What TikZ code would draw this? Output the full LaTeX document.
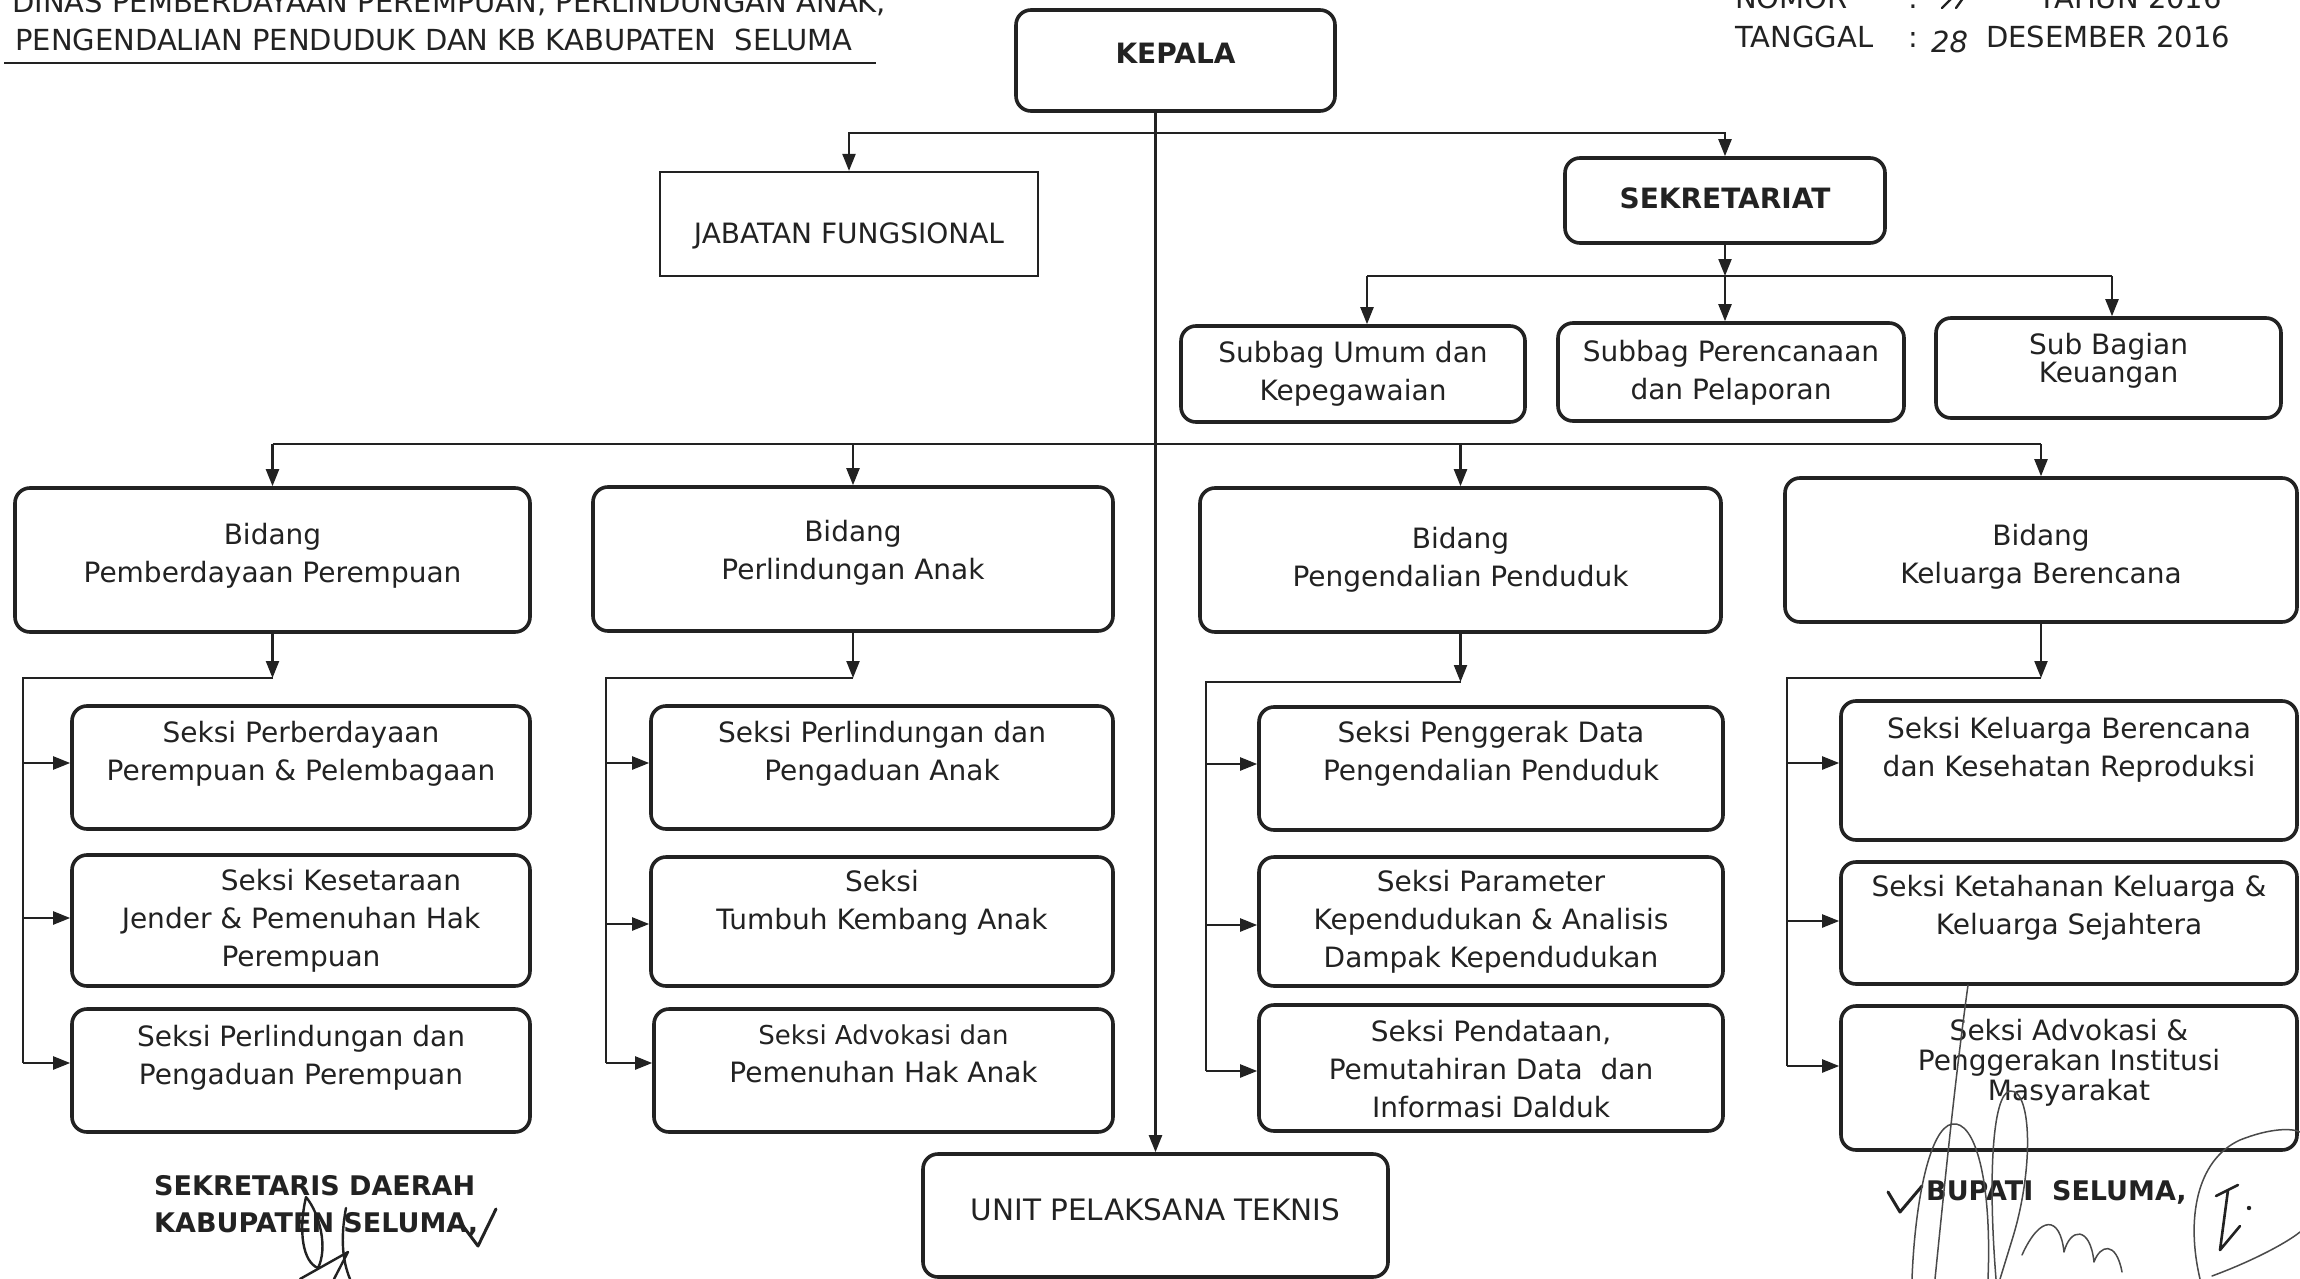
\documentclass[tikz,border=0pt]{standalone}
\usepackage{fontspec}
\setmainfont{DejaVu Sans}
\usetikzlibrary{arrows.meta}
\definecolor{ink}{HTML}{222222}
\definecolor{pen}{HTML}{4A4A4A}
% box text: #1 vertical shift, #2 line distance, #3 lines
\newcommand\bx[3]{\raisebox{#1}[\height][\depth]{\fontsize{28}{#2}\selectfont\begin{tabular}{@{}c@{}}#3\end{tabular}}}

\tikzset{
  orgbox/.style={draw=ink, line width=3.6pt, rounded corners=15pt, inner sep=0pt, text=ink},
  flatbox/.style={draw=ink, line width=2.2pt, inner sep=0pt, text=ink},
  link/.style={draw=ink, line width=2.2pt},
  arr/.style={link, -{Triangle[length=17pt,width=13pt]}},
  hdr/.style={anchor=base west, inner sep=0pt, text=ink, font=\fontsize{29}{29}\selectfont},
  signame/.style={anchor=base west, inner sep=0pt, text=ink, font=\fontsize{27}{27}\selectfont\bfseries},
  sig/.style={draw=pen, line width=1.5pt, line cap=round, line join=round},
  tick/.style={draw=ink, line width=3pt, line cap=round, line join=round},
}

\begin{document}
\begin{tikzpicture}[x=1pt,y=-1pt]
\fill[white] (0,0) rectangle (2300,1279);
\clip (0,0) rectangle (2300,1279);

% ---------- heading ----------
\node[hdr] (title1) at (12,13) {DINAS PEMBERDAYAAN PEREMPUAN, PERLINDUNGAN ANAK,};
\node[hdr] (title2) at (15,51) {PENGENDALIAN PENDUDUK DAN KB KABUPATEN\ \ SELUMA};
\draw[ink, line width=1.8pt] (4,63) -- (876,63);

\node[hdr] (nomor) at (1735,9) {NOMOR};
\node[hdr] (nomorc) at (1908,9) {:};
\node[hdr, anchor=base east] (tahun) at (2222,9) {TAHUN 2016};
\draw[sig, draw=ink, line width=2.4pt] (1942,8) -- (1952,-2) (1956,8) -- (1966,-6);
\node[hdr] (tanggal) at (1735,48) {TANGGAL};
\node[hdr] (tanggalc) at (1908,48) {:};
\node[hdr, font=\fontsize{29}{29}\selectfont\itshape] (tgl) at (1931,53) {28};
\node[hdr] (bulan) at (1986,48) {DESEMBER 2016};

% ---------- top level ----------
\node[orgbox, minimum width=319pt, minimum height=101pt] (kepala) at (1175.5,60.5) {\bx{4.5pt}{38pt}{\bfseries KEPALA}};
\node[flatbox, minimum width=378pt, minimum height=104pt] (jab) at (849,224) {\bx{-12pt}{38pt}{JABATAN FUNGSIONAL}};
\node[orgbox, minimum width=320pt, minimum height=85pt] (sek) at (1725,200.5) {\bx{0pt}{38pt}{\bfseries SEKRETARIAT}};

\node[orgbox, minimum width=344pt, minimum height=96pt] (sub1) at (1353,374) {\bx{0pt}{38pt}{Subbag Umum dan\\Kepegawaian}};
\node[orgbox, minimum width=346pt, minimum height=98pt] (sub2) at (1731,372) {\bx{-1pt}{38pt}{Subbag Perencanaan\\dan Pelaporan}};
\node[orgbox, minimum width=345pt, minimum height=100pt] (sub3) at (2108.5,368) {\bx{6pt}{26pt}{Sub Bagian\\Keuangan}};

% ---------- bidang ----------
\node[orgbox, minimum width=515pt, minimum height=144pt] (bid1) at (272.5,560) {\bx{4pt}{38pt}{Bidang\\Pemberdayaan Perempuan}};
\node[orgbox, minimum width=520pt, minimum height=144pt] (bid2) at (853,559) {\bx{6pt}{38pt}{Bidang\\Perlindungan Anak}};
\node[orgbox, minimum width=521pt, minimum height=144pt] (bid3) at (1460.5,560) {\bx{0pt}{38pt}{Bidang\\Pengendalian Penduduk}};
\node[orgbox, minimum width=512pt, minimum height=144pt] (bid4) at (2041,550) {\bx{-7pt}{38pt}{Bidang\\Keluarga Berencana}};

% ---------- seksi ----------
\node[orgbox, minimum width=458pt, minimum height=123pt] (s11) at (301,767.5) {\bx{13.5pt}{38pt}{Seksi Perberdayaan\\Perempuan \& Pelembagaan}};
\node[orgbox, minimum width=458pt, minimum height=131pt] (s12) at (301,920.5) {\bx{0pt}{38pt}{\hspace*{80pt}Seksi Kesetaraan\\Jender \& Pemenuhan Hak\\Perempuan}};
\node[orgbox, minimum width=458pt, minimum height=123pt] (s13) at (301,1070.5) {\bx{12.5pt}{38pt}{Seksi Perlindungan dan\\Pengaduan Perempuan}};

\node[orgbox, minimum width=462pt, minimum height=123pt] (s21) at (882,767.5) {\bx{13.5pt}{38pt}{Seksi Perlindungan dan\\Pengaduan Anak}};
\node[orgbox, minimum width=462pt, minimum height=129pt] (s22) at (882,921.5) {\bx{18.5pt}{38pt}{Seksi\\Tumbuh Kembang Anak}};
\node[orgbox, minimum width=459pt, minimum height=123pt] (s23) at (883.5,1070.5) {\bx{14.5pt}{38pt}{{\fontsize{26}{38}\selectfont Seksi Advokasi dan}\\Pemenuhan Hak Anak}};

\node[orgbox, minimum width=464pt, minimum height=123pt] (s31) at (1491,768.5) {\bx{14.5pt}{38pt}{Seksi Penggerak Data\\Pengendalian Penduduk}};
\node[orgbox, minimum width=464pt, minimum height=129pt] (s32) at (1491,921.5) {\bx{0pt}{38pt}{Seksi Parameter\\Kependudukan \& Analisis\\Dampak Kependudukan}};
\node[orgbox, minimum width=464pt, minimum height=126pt] (s33) at (1491,1068) {\bx{-4pt}{38pt}{Seksi Pendataan,\\Pemutahiran Data\ \ dan\\Informasi Dalduk}};

\node[orgbox, minimum width=456pt, minimum height=139pt] (s41) at (2069,770.5) {\bx{20.5pt}{38pt}{Seksi Keluarga Berencana\\dan Kesehatan Reproduksi}};
\node[orgbox, minimum width=456pt, minimum height=122pt] (s42) at (2069,923) {\bx{15pt}{38pt}{Seksi Ketahanan Keluarga \&\\Keluarga Sejahtera}};
\node[orgbox, minimum width=456pt, minimum height=144pt] (s43) at (2069,1078) {\bx{14pt}{29pt}{Seksi Advokasi \&\\Penggerakan Institusi\\Masyarakat}};

\node[orgbox, minimum width=465pt, minimum height=123pt] (upt) at (1155.5,1215.5) {\bx{2.5pt}{38pt}{{\fontsize{29.5}{38}\selectfont UNIT PELAKSANA TEKNIS}}};

% ---------- connectors ----------
\draw[arr] (kepala.south -| upt.north) -- (upt.north);
\coordinate (topbar) at (1155.5,133);
\draw[arr] (topbar) -| (jab.north);
\draw[arr] (topbar) -| (sek.north);

\coordinate (sekbar) at (1725,276);
\coordinate (sb1) at (1367,276);
\coordinate (sb3) at (2112,276);
\draw[arr] (sek.south) -- (sekbar);
\draw[link] (sb1) -- (sb3);
\draw[arr] (sb1) -- (sb1 |- sub1.north);
\draw[arr] (sekbar) -- (sekbar |- sub2.north);
\draw[arr] (sb3) -- (sb3 |- sub3.north);

\coordinate (bbar) at (0,444);
\draw[link] (bid1.north |- bbar) -- (bid4.north |- bbar);
\foreach \i in {1,2,3,4} {
  \draw[arr] (bid\i.north |- bbar) -- (bid\i.north);
}

\foreach \i/\bxx/\ty/\ya/\yb/\yc in {1/23/678/763/918/1063, 2/606/678/763/924/1063, 3/1206/682/764/925/1071, 4/1787/678/763/921/1066} {
  \coordinate (k\i) at (\bxx,\ty);
  \coordinate (ka\i) at (\bxx,\ya);
  \coordinate (kb\i) at (\bxx,\yb);
  \coordinate (kc\i) at (\bxx,\yc);
  \draw[arr] (bid\i.south) -- (bid\i.south |- k\i);
  \draw[link] (bid\i.south |- k\i) -- (k\i) -- (kc\i);
  \draw[arr] (ka\i) -- (ka\i -| s\i1.west);
  \draw[arr] (kb\i) -- (kb\i -| s\i2.west);
  \draw[arr] (kc\i) -- (kc\i -| s\i3.west);
}

% ---------- signatures ----------
\node[signame] (sekda1) at (154,1195) {SEKRETARIS DAERAH};
\node[signame] (sekda2) at (154,1232) {KABUPATEN SELUMA,};
\node[signame] (bupati) at (1926,1200) {BUPATI\ \ SELUMA,};

\draw[sig, draw=ink, line width=2.4pt] (306,1197) .. controls (298,1232) and (303,1262) .. (318,1268) .. controls (328,1248) and (320,1214) .. (306,1197);
\draw[sig, draw=ink, line width=2.4pt] (346,1208) .. controls (340,1240) and (343,1262) .. (350,1279);
\draw[sig, draw=ink, line width=2.4pt] (300,1279) -- (348,1252) -- (334,1279);
\draw[tick] (463,1226) -- (478,1246) -- (496,1209);

\draw[tick] (1888,1192) -- (1900,1212) -- (1922,1186);
\draw[sig] (1968,985) .. controls (1955,1080) and (1945,1180) .. (1935,1279);
\draw[sig] (1912,1279) .. controls (1915,1200) and (1930,1128) .. (1952,1124) .. controls (1975,1120) and (1992,1180) .. (1988,1279);
\draw[sig] (1996,1279) .. controls (1988,1180) and (1992,1094) .. (2010,1091) .. controls (2032,1089) and (2034,1170) .. (2012,1240) -- (2000,1279);
\draw[sig] (2022,1255) .. controls (2040,1215) and (2060,1215) .. (2064,1252) .. controls (2070,1228) and (2090,1225) .. (2094,1262) .. controls (2100,1245) and (2116,1240) .. (2122,1272);
\draw[sig] (2200,1279) .. controls (2186,1220) and (2196,1160) .. (2240,1140) .. controls (2270,1128) and (2292,1128) .. (2300,1132);
\draw[sig] (2212,1276) .. controls (2250,1262) and (2285,1244) .. (2300,1232);
\draw[tick, line width=2.6pt] (2216,1196) -- (2238,1185) (2228,1190) -- (2220,1250) -- (2240,1226);
\fill[ink] (2249,1208) circle (2.2pt);
\end{tikzpicture}
\end{document}
